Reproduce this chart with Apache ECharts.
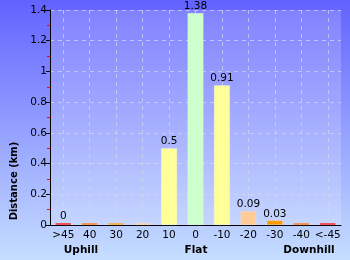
<!DOCTYPE html>
<html><head><meta charset="utf-8">
<script src="https://cdn.jsdelivr.net/npm/echarts@6/dist/echarts.min.js"></script>
<style>html,body{margin:0;padding:0;}#c{width:350px;height:260px;}</style>
</head><body><div id="c"></div>
<script>
const categories = ['>45','40','30','20','10','0','-10','-20','-30','-40','<-45'];
const distances = [0, 0, 0, 0, 0.5, 1.38, 0.91, 0.09, 0.03, 0, 0];
const valueLabels = ['0','','','','0.5','1.38','0.91','0.09','0.03','',''];
const barColors = ['#ff0000','#ff6a00','#ff9900','#ffcc99','#ffff99','#ccffcc','#ffff99','#ffcc99','#ff9900','#ff6a00','#ff0000'];
const yTicks = {min: 0, max: 1.4, interval: 0.2};
const groupLabels = ['Uphill','Flat','Downhill'];
const yTitle = 'Distance (km)';

const chart = echarts.init(document.getElementById('c'), null, {renderer: 'canvas'});
const font = '"DejaVu Sans", Verdana, sans-serif';
chart.setOption({
  animation: false,
  backgroundColor: {type: 'linear', x: 0, y: 0, x2: 0, y2: 1,
    colorStops: [{offset: 0, color: '#6262ff'}, {offset: 1, color: '#c6deff'}]},
  grid: {left: 50, right: 9, top: 10, bottom: 35, show: true,
    backgroundColor: 'rgba(255,255,255,0.18)', borderWidth: 0},
  xAxis: {
    type: 'category', data: categories,
    axisLine: {lineStyle: {color: '#000', width: 1}},
    axisTick: {show: false},
    axisLabel: {color: '#000', fontFamily: font, fontSize: 10.5, margin: 5, interval: 0},
    splitLine: {show: true, interval: 0, alignWithLabel: true, lineStyle: {color: 'rgba(215,215,235,0.7)', type: [4, 4], width: 1}}
  },
  yAxis: {
    type: 'value', min: yTicks.min, max: yTicks.max, interval: yTicks.interval,
    axisLine: {show: true, lineStyle: {color: '#000', width: 1}},
    axisTick: {show: true, length: 4, lineStyle: {color: '#000'}},
    minorTick: {show: true, splitNumber: 2, length: 3, lineStyle: {color: '#ff0000'}},
    axisLabel: {color: '#000', fontFamily: font, fontSize: 10.5, margin: 3,
      formatter: v => String(Math.round(v * 10) / 10)},
    splitLine: {show: true, lineStyle: {color: 'rgba(215,215,235,0.7)', type: [4, 4], width: 1}}
  },
  series: [{
    type: 'bar', barWidth: 16, barMinHeight: 2,
    data: distances.map((v, i) => ({value: v, itemStyle: {color: barColors[i]}})),
    itemStyle: {borderColor: 'rgba(255,255,255,0.35)', borderWidth: 0.5},
    label: {show: true, position: 'top', distance: 1, color: '#000', fontFamily: font, fontSize: 10.5,
      formatter: p => valueLabels[p.dataIndex]}
  }],
  graphic: [
    {type: 'text', x: 14, y: 181, rotation: Math.PI / 2,
      style: {text: yTitle, font: 'bold 10px ' + font, fill: '#000', textAlign: 'center', textVerticalAlign: 'middle'}},
    {type: 'text', x: 81, y: 250, style: {text: groupLabels[0], font: 'bold 10.5px ' + font, fill: '#000', textAlign: 'center', textVerticalAlign: 'middle'}},
    {type: 'text', x: 196, y: 250, style: {text: groupLabels[1], font: 'bold 10.5px ' + font, fill: '#000', textAlign: 'center', textVerticalAlign: 'middle'}},
    {type: 'text', x: 309, y: 250, style: {text: groupLabels[2], font: 'bold 10.5px ' + font, fill: '#000', textAlign: 'center', textVerticalAlign: 'middle'}}
  ]
});
</script></body></html>
